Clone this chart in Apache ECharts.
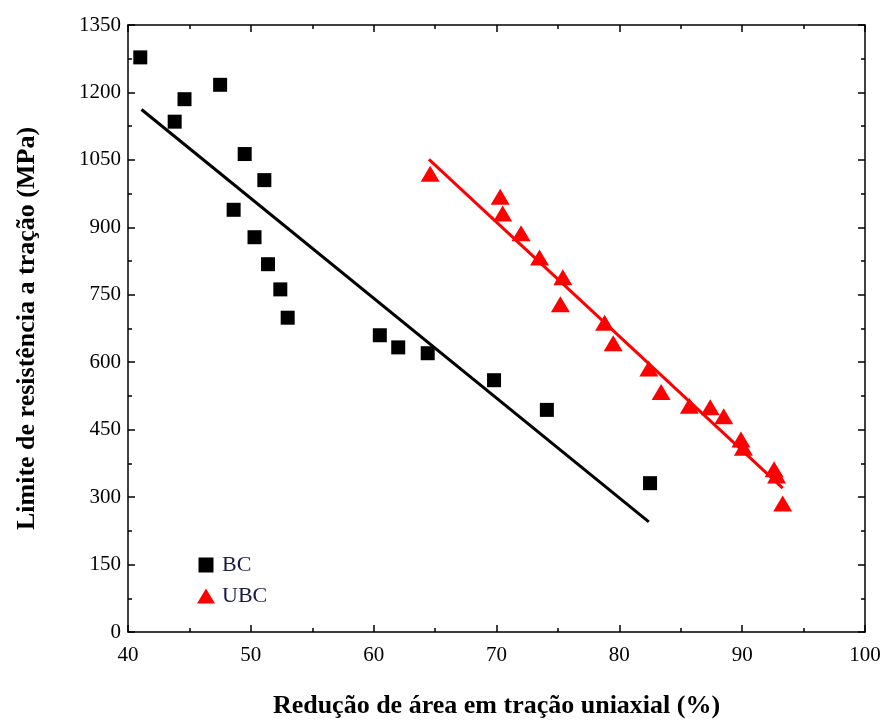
<!DOCTYPE html>
<html>
<head>
<meta charset="utf-8">
<script src="https://cdn.jsdelivr.net/npm/echarts@6/dist/echarts.min.js"></script>
<style>
  html, body { margin: 0; padding: 0; background: #fff; }
  #chart { width: 892px; height: 724px; }
</style>
</head>
<body>
<div id="chart"></div>
<script>
// BC points: [reducao de area (%), limite de resistencia (MPa)]
var bcData = [
    [41.0, 1278], [43.8, 1135], [44.6, 1185], [47.5, 1217],
    [48.6, 939], [49.5, 1063], [50.3, 878], [51.1, 1005],
    [51.4, 818], [52.4, 762], [53.0, 699], [60.5, 660],
    [62.0, 633], [64.4, 620], [69.8, 560], [74.1, 494], [82.5, 331]
];
// UBC points
var ubcData = [
    [64.6, 1019], [70.3, 968], [70.5, 931], [72.0, 887],
    [73.5, 833], [75.4, 789], [75.2, 729], [78.8, 688],
    [79.5, 642], [82.4, 586], [83.4, 534], [85.7, 503],
    [87.4, 500], [88.5, 480], [89.9, 428], [90.1, 410],
    [92.6, 362], [92.8, 348], [93.3, 286]
];
// linear fit endpoints
var bcFit = [[41.1, 1162], [82.4, 245]];
var ubcFit = [[64.5, 1051], [93.3, 320]];

var xMin = 40, xMax = 100, xStep = 10;
var yMin = 0, yMax = 1350, yStep = 150;

var serif = '"Liberation Serif", "DejaVu Serif", serif';

var baseAxis = function () {
    return {
        type: 'value',
        axisLine: { show: true, onZero: false, lineStyle: { color: '#000', width: 1.5 } },
        axisTick: { show: true, inside: true, length: 7, lineStyle: { color: '#000', width: 1.5 } },
        minorTick: { show: true, splitNumber: 2, length: 4, lineStyle: { color: '#000', width: 1.5 } },
        splitLine: { show: false },
        axisLabel: { color: '#000', fontFamily: serif, fontSize: 21, formatter: function (v) { return String(v); } }
    };
};

var xBottom = Object.assign(baseAxis(), {
    min: xMin, max: xMax, interval: xStep, position: 'bottom',
    name: 'Redução de área em tração uniaxial (%)',
    nameLocation: 'middle', nameGap: 61,
    nameTextStyle: { color: '#000', fontFamily: serif, fontSize: 26, fontWeight: 'bold' }
});
xBottom.axisLabel.margin = 13;
var xTop = Object.assign(baseAxis(), {
    min: xMin, max: xMax, interval: xStep, position: 'top'
});
xTop.axisLabel = { show: false };

var yLeft = Object.assign(baseAxis(), {
    min: yMin, max: yMax, interval: yStep, position: 'left',
    name: 'Limite de resistência a tração (MPa)',
    nameLocation: 'middle', nameGap: 88,
    nameTextStyle: { color: '#000', fontFamily: serif, fontSize: 26, fontWeight: 'bold' }
});
yLeft.axisLabel.margin = 7;
var yRight = Object.assign(baseAxis(), {
    min: yMin, max: yMax, interval: yStep, position: 'right'
});
yRight.axisLabel = { show: false };

var option = {
    backgroundColor: '#fff',
    animation: false,
    grid: { left: 128, right: 27, top: 25, bottom: 92, outerBoundsMode: 'none' },
    xAxis: [xBottom, xTop],
    yAxis: [yLeft, yRight],
    legend: {
        left: 192, top: 549, orient: 'vertical', itemGap: 9,
        itemWidth: 18, itemHeight: 15,
        textStyle: { color: '#1a1a40', fontFamily: serif, fontSize: 22, padding: [0, 0, 0, 2] },
        data: [
            { name: 'BC', icon: 'path://M2,0.5H16V14.5H2Z', itemStyle: { color: '#000' } },
            { name: 'UBC', icon: 'triangle', itemStyle: { color: '#ff0000' } }
        ]
    },
    series: [
        {
            name: 'BC', type: 'scatter', data: bcData,
            symbol: 'rect', symbolSize: 14,
            itemStyle: { color: '#000', opacity: 1 }, z: 3
        },
        {
            name: 'UBC', type: 'scatter', data: ubcData,
            symbol: 'triangle', symbolSize: [19, 16],
            itemStyle: { color: '#ff0000', opacity: 1 }, z: 3
        },
        {
            name: 'BC fit', type: 'line', data: bcFit,
            showSymbol: false, silent: true,
            lineStyle: { color: '#000', width: 3 }, z: 2
        },
        {
            name: 'UBC fit', type: 'line', data: ubcFit,
            showSymbol: false, silent: true,
            lineStyle: { color: '#ff0000', width: 3 }, z: 2
        }
    ]
};

var chart = echarts.init(document.getElementById('chart'));
chart.setOption(option);
</script>
</body>
</html>
